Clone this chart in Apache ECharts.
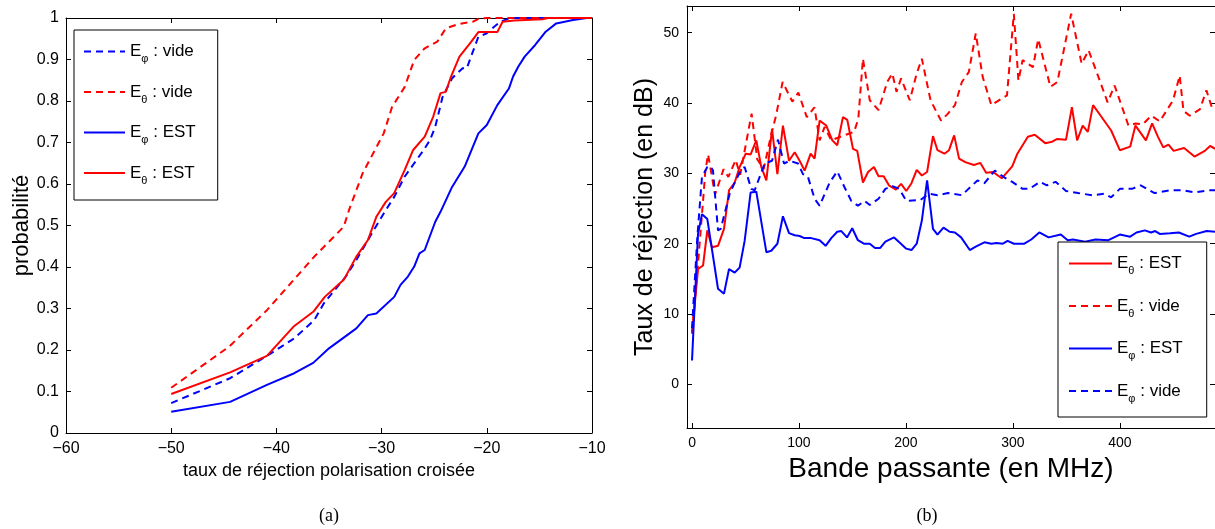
<!DOCTYPE html>
<html><head><meta charset="utf-8">
<script src="https://cdn.jsdelivr.net/npm/echarts@6/dist/echarts.min.js"></script>
<style>html,body{margin:0;padding:0;background:#fff}#c{width:1215px;height:529px}</style>
</head><body><div id="c"></div>
<script>
// ---------- (a) cumulative probability vs cross-pol rejection ----------
const cdfXTicks = [-60, -50, -40, -30, -20, -10];
const cdfPhiVide = [[-50,0.072],[-44.4,0.132],[-40.9,0.186],[-38.3,0.228],[-36.4,0.272],[-35.5,0.312],[-34.7,0.337],[-33.4,0.377],[-32.4,0.417],[-31.3,0.465],[-29.8,0.529],[-28.8,0.569],[-27.8,0.618],[-26.9,0.650],[-26.0,0.682],[-25.4,0.706],[-24.9,0.738],[-24.2,0.810],[-23.8,0.830],[-23.3,0.855],[-22.3,0.879],[-21.9,0.879],[-21.5,0.907],[-20.8,0.955],[-20.0,0.963],[-19.3,0.979],[-18.7,0.991],[-18.0,0.998],[-17.5,1],[-10,1]];
const cdfThetaVide = [[-50,0.109],[-44.5,0.208],[-40.9,0.296],[-36.4,0.425],[-33.6,0.497],[-33.1,0.537],[-31.8,0.626],[-29.8,0.722],[-29.0,0.786],[-27.8,0.834],[-26.9,0.899],[-25.9,0.927],[-24.7,0.943],[-23.9,0.975],[-22.6,0.986],[-21.3,0.991],[-20.8,0.998],[-20.0,1],[-10,1]];
const cdfPhiEst = [[-50,0.051],[-44.4,0.075],[-40.9,0.116],[-38.3,0.144],[-36.5,0.169],[-35.0,0.204],[-33.7,0.228],[-32.4,0.252],[-31.3,0.284],[-30.5,0.288],[-28.8,0.328],[-28.2,0.357],[-27.5,0.377],[-26.9,0.401],[-26.4,0.433],[-25.9,0.441],[-24.9,0.509],[-24.4,0.533],[-23.3,0.593],[-22.1,0.642],[-20.8,0.722],[-20.0,0.742],[-19.0,0.790],[-17.9,0.830],[-17.5,0.859],[-17.0,0.883],[-16.4,0.907],[-15.4,0.935],[-14.4,0.967],[-13.4,0.987],[-11.8,0.995],[-10.5,1],[-10,1]];
const cdfThetaEst = [[-50,0.094],[-44.4,0.146],[-40.9,0.186],[-38.3,0.258],[-36.5,0.292],[-35.4,0.328],[-33.6,0.369],[-32.4,0.425],[-31.3,0.465],[-30.5,0.521],[-29.6,0.557],[-28.8,0.578],[-27.8,0.634],[-27.0,0.682],[-25.9,0.714],[-25.1,0.762],[-24.4,0.819],[-23.9,0.822],[-23.4,0.859],[-22.6,0.907],[-21.6,0.939],[-20.8,0.966],[-19.0,0.966],[-18.5,0.991],[-17.4,0.994],[-14.7,0.997],[-14.2,1],[-10,1]];

// ---------- (b) rejection (dB) vs bandwidth (MHz) ----------
const bwXTicks = [0, 100, 200, 300, 400];
const bwYTicks = [0, 10, 20, 30, 40, 50];
const bwThetaEst = [[0,7.2],[5.6,16.4],[10.3,16.9],[14.3,21.9],[18.7,19.5],[24.3,19.7],[29.9,22.1],[34.6,27.6],[39.9,28.7],[44.5,30.9],[50.2,32.8],[54.8,32.7],[60.1,34.7],[64.8,30.9],[69.5,29.0],[74.8,36.3],[79.8,29.9],[85,36.8],[90.7,31.8],[96,33.0],[100.6,31.8],[105.3,30.4],[110.9,32.8],[114.6,32.1],[119.3,37.5],[125.5,36.8],[131.2,34.7],[135.8,34.0],[141.1,38.0],[145.2,37.6],[150.5,33.5],[154.5,33.2],[159.8,28.7],[164.6,30.2],[170.1,30.9],[174.4,29.6],[179.2,29.6],[184.1,28.3],[190.6,27.7],[195.5,28.5],[200.3,27.5],[205.2,28.6],[210.1,30.5],[214.9,29.7],[219.8,30.2],[225.3,35.3],[229.5,33.3],[236,32.8],[240.3,33.3],[245.1,35.4],[249.7,32.1],[255.5,31.6],[263.6,31.2],[269.5,31.5],[275,30.1],[281.5,30.2],[289.6,29.3],[299.4,31.0],[304.2,32.8],[314,35.2],[320.5,35.5],[330.2,34.3],[336.7,34.5],[341.6,34.9],[349.7,34.8],[355.2,39.4],[360.1,34.7],[365.3,36.8],[370.1,35.9],[375,39.7],[382.1,38.2],[391.9,36.1],[400,33.3],[409.7,33.8],[414.6,36.8],[424.4,34.7],[430.2,37.1],[435.7,35.2],[440.6,33.7],[445.5,34.1],[450.3,33.2],[460.1,33.6],[469.8,32.4],[479.5,33.2],[484.4,33.9],[489,33.5]];
const bwThetaVide = [[0,7.4],[5.6,17.1],[10.3,26.1],[12.5,30.4],[15,32.7],[21.5,27.0],[29.5,30.6],[34,29.5],[40.8,31.9],[45,29.8],[55.7,38.5],[61,32],[67,30.6],[74,35.5],[78.7,38.3],[84.7,43.0],[93.8,40.2],[99.4,41.5],[107.3,38],[114.5,39.4],[119.3,34.7],[124,36.6],[130.2,34.7],[141.9,35.4],[151.6,35.9],[155.5,37.8],[159.8,46.3],[166.2,40.4],[174.4,39],[182.5,43],[187.3,44.2],[191.2,41.6],[195.5,43.5],[203.6,40.4],[210.1,44.2],[214.9,46.3],[223,40.4],[232.8,37.5],[239.3,38.5],[245.8,39.7],[252.3,43],[258.8,44.4],[265.3,49.9],[271.8,43.7],[279.9,39.7],[294.5,41.1],[300.9,52.7],[305.2,43.2],[309.1,46.1],[318.8,45.1],[323.7,49.1],[335.1,42.3],[341.6,43],[354.5,52.7],[364.3,45.6],[370.8,47.5],[380.5,43.5],[388.6,40.1],[395.1,42.5],[408.1,36.8],[414.6,37.1],[421.5,37.0],[429.6,38.2],[437.4,37.4],[449.8,40.4],[456,43.9],[459.5,38.9],[465.4,38.2],[474.8,39.1],[481,41.8],[486,39.4],[489,39.0]];
const bwPhiEst = [[0,3.4],[5.6,21.4],[9.3,24.2],[14.3,23.5],[24.3,13.6],[29.9,12.9],[34.6,16.4],[39.9,15.9],[44.5,16.6],[49.2,20.4],[54.8,27.3],[60.1,27.4],[69.5,18.8],[74.1,19.0],[79.8,20.0],[85,23.9],[90.7,21.5],[96,21.2],[100.6,21.1],[105,20.8],[111.5,20.8],[119.3,20.5],[124.9,19.7],[130.2,20.8],[135.8,21.7],[139.6,21.8],[144.9,20.9],[149.8,22.2],[155.1,20.5],[160.7,20.0],[166.2,20.0],[171.1,19.4],[176,19.4],[180.8,20.3],[188.9,20.9],[193.8,20.2],[200.3,19.3],[205.2,19.1],[210.1,20.0],[214.9,23.3],[219.8,29.0],[225.3,22.1],[229.5,21.3],[235.1,22.3],[240.9,21.7],[245.8,21.6],[251.6,20.9],[259.7,19.1],[265.3,19.6],[273.4,20.2],[279.9,20.0],[284.7,20.1],[290.6,20.0],[295.1,20.4],[301,20.0],[310.7,20.0],[317.2,20.6],[324.7,21.6],[333.4,20.9],[344.8,21.3],[351.3,20.5],[356.2,20.6],[367.5,20.3],[377.3,20.6],[389.3,20.5],[400,21.3],[409.7,21.0],[415.6,21.6],[423.4,21.9],[429.2,21.6],[433.1,21.8],[437.3,21.4],[447,21.5],[455.2,21.6],[464.9,21.0],[471.4,21.4],[481.2,21.8],[489,21.7]];
const bwPhiVide = [[0,8],[5,21],[9.3,29.5],[14.3,30.9],[17.4,31.0],[19.6,30.4],[24.3,21.9],[26.8,22.1],[35.2,27.1],[39.9,28.7],[46.1,30.6],[49.2,30.9],[55.4,27.8],[58.6,27.6],[67.9,31.4],[74.8,31.8],[80.4,34.8],[86,31.4],[91.3,31.8],[99.1,31.4],[103.7,29.9],[108.4,29.5],[114.6,26.4],[119.3,25.4],[128.7,28.7],[135.8,30.3],[142.7,28.0],[148.9,26.1],[155.1,25.4],[161.4,26.1],[166.2,25.5],[174.4,26.4],[180.8,27.8],[187.3,28.2],[193.8,27.8],[200.3,26.1],[213.3,26.2],[221.4,27.1],[229.5,26.9],[239.3,27.2],[252.3,26.9],[262,28.3],[266.9,29.0],[273.4,28.6],[283.1,30.4],[291.2,29.5],[299.4,28.8],[309.1,27.8],[315.6,27.8],[325.3,28.8],[331.8,28.3],[339.9,28.8],[349.7,27.5],[361,27.2],[374,26.9],[385.4,27.1],[391.9,26.6],[400,27.8],[411.4,27.8],[419.5,28.3],[432.5,27.2],[447.1,27.6],[458.4,27.6],[469.8,27.3],[482.8,27.6],[489,27.6]];

const legendLeft = ['E\u03c6 : vide', 'E\u03b8 : vide', 'E\u03c6 : EST', 'E\u03b8 : EST'];
const legendRight = ['E\u03b8 : EST', 'E\u03b8 : vide', 'E\u03c6 : EST', 'E\u03c6 : vide'];
const captions = ['(a)', '(b)'];
const titles = ['taux de r\u00e9jection polarisation crois\u00e9e', 'probabilit\u00e9', 'Bande passante (en MHz)', 'Taux de r\u00e9jection (en dB)'];

const SANS = 'Liberation Sans, Arial, Helvetica, sans-serif';
const BLUE = '#0000ff', RED = '#ff0000';
const DASH = [7, 5];

function axisBase(extra) {
  return Object.assign({
    type: 'value',
    axisLine: { show: true, onZero: false, lineStyle: { color: '#000', width: 1 } },
    axisTick: { show: true, inside: true, length: 5, lineStyle: { color: '#000' } },
    splitLine: { show: false },
    axisLabel: { color: '#000', fontFamily: SANS, fontSize: 16 }
  }, extra);
}
const minusFmt = v => (v < 0 ? '\u2212' + Math.abs(v) : String(v));

function legendFmt(name) {
  return '{e|E}{s|' + name.charAt(1) + '}{t|' + name.slice(2) + '}';
}
const richLegend = {
  e: { fontFamily: SANS, fontSize: 17, lineHeight: 26, verticalAlign: 'middle', color: '#000' },
  s: { fontFamily: SANS, fontSize: 11, lineHeight: 8, verticalAlign: 'bottom', color: '#000' },
  t: { fontFamily: SANS, fontSize: 17, lineHeight: 26, verticalAlign: 'middle', color: '#000' }
};

function lineSeries(name, data, color, dashed, xi, yi) {
  return {
    type: 'line', name: name, data: data, xAxisIndex: xi, yAxisIndex: yi,
    symbol: 'none', showSymbol: false, clip: true, animation: false,
    lineStyle: { color: color, width: 2, type: dashed ? DASH : 'solid' },
    itemStyle: { color: color }
  };
}

const legendCommon = {
  orient: 'vertical', itemHeight: 14,
  borderColor: '#000', borderWidth: 1, backgroundColor: '#fff', borderRadius: 0,
  selectedMode: false, formatter: legendFmt,
  itemStyle: { opacity: 0, borderWidth: 0 },
  textStyle: { color: '#000', fontFamily: SANS, fontSize: 17, rich: richLegend }
};

const chart = echarts.init(document.getElementById('c'), null, { renderer: 'canvas' });
chart.setOption({
  backgroundColor: '#fff',
  animation: false,
  grid: [
    { left: 66, top: 18, width: 526, height: 415 },
    { left: 687, top: 6, width: 528, height: 422 }
  ],
  xAxis: [
    axisBase({ gridIndex: 0, position: 'bottom', min: cdfXTicks[0], max: cdfXTicks[cdfXTicks.length - 1], interval: 10,
      axisLabel: { color: '#000', fontFamily: SANS, fontSize: 16, margin: 8, formatter: minusFmt },
      name: titles[0], nameLocation: 'middle', nameGap: 25,
      nameTextStyle: { color: '#000', fontFamily: SANS, fontSize: 18 } }),
    axisBase({ gridIndex: 0, position: 'top', min: cdfXTicks[0], max: cdfXTicks[cdfXTicks.length - 1], interval: 10,
      axisLabel: { show: false } }),
    axisBase({ gridIndex: 1, position: 'bottom', min: -4.7, max: 489,
      axisTick: { show: true, inside: true, length: 5, lineStyle: { color: '#000' }, customValues: bwXTicks },
      axisLabel: { color: '#000', fontFamily: SANS, fontSize: 14, margin: 8, customValues: bwXTicks },
      name: titles[2], nameLocation: 'middle', nameGap: 23,
      nameTextStyle: { color: '#000', fontFamily: SANS, fontSize: 28 } }),
    axisBase({ gridIndex: 1, position: 'top', min: -4.7, max: 489,
      axisTick: { show: true, inside: true, length: 5, lineStyle: { color: '#000' }, customValues: bwXTicks },
      axisLabel: { show: false } })
  ],
  yAxis: [
    axisBase({ gridIndex: 0, position: 'left', min: 0, max: 1, interval: 0.1,
      axisLabel: { color: '#000', fontFamily: SANS, fontSize: 16, margin: 7 },
      name: titles[1], nameLocation: 'middle', nameGap: 32, nameRotate: 90,
      nameTextStyle: { color: '#000', fontFamily: SANS, fontSize: 22 } }),
    axisBase({ gridIndex: 0, position: 'right', min: 0, max: 1, interval: 0.1, axisLabel: { show: false } }),
    axisBase({ gridIndex: 1, position: 'left', min: -6.2, max: 53.8,
      axisTick: { show: true, inside: true, length: 5, lineStyle: { color: '#000' }, customValues: bwYTicks },
      axisLabel: { color: '#000', fontFamily: SANS, fontSize: 14, margin: 8, customValues: bwYTicks },
      name: titles[3], nameLocation: 'middle', nameGap: 29, nameRotate: 90,
      nameTextStyle: { color: '#000', fontFamily: SANS, fontSize: 25 } }),
    axisBase({ gridIndex: 1, position: 'right', min: -6.2, max: 53.8,
      axisTick: { show: true, inside: true, length: 5, lineStyle: { color: '#000' }, customValues: bwYTicks },
      axisLabel: { show: false } })
  ],
  legend: [
    Object.assign({}, legendCommon, { data: legendLeft, left: 74, top: 30, itemWidth: 41, itemGap: 19,
      padding: [13, 22, 14, 9] }),
    Object.assign({}, legendCommon, { data: legendRight, left: 1058, top: 242, itemWidth: 43, itemGap: 21,
      padding: [13, 24, 13, 10] })
  ],
  series: [
    lineSeries(legendLeft[0], cdfPhiVide, BLUE, true, 0, 0),
    lineSeries(legendLeft[1], cdfThetaVide, RED, true, 0, 0),
    lineSeries(legendLeft[2], cdfPhiEst, BLUE, false, 0, 0),
    lineSeries(legendLeft[3], cdfThetaEst, RED, false, 0, 0),
    lineSeries(legendRight[0], bwThetaEst, RED, false, 2, 2),
    lineSeries(legendRight[1], bwThetaVide, RED, true, 2, 2),
    lineSeries(legendRight[2], bwPhiEst, BLUE, false, 2, 2),
    lineSeries(legendRight[3], bwPhiVide, BLUE, true, 2, 2)
  ],
  graphic: [
    { type: 'text', x: 329, y: 516, style: { text: captions[0], font: '18px "Liberation Serif", serif', fill: '#000', textAlign: 'center', textVerticalAlign: 'middle' } },
    { type: 'text', x: 927, y: 516, style: { text: captions[1], font: '18px "Liberation Serif", serif', fill: '#000', textAlign: 'center', textVerticalAlign: 'middle' } }
  ]
});
</script></body></html>
